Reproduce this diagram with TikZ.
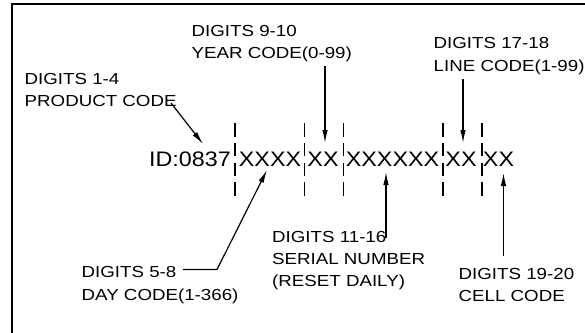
\documentclass[tikz,border=0pt]{standalone}
\usepackage{fontspec}
\setmainfont{Liberation Sans}
\newfontfamily\lblfont{Liberation Sans}[FakeStretch=1.17]
\newfontfamily\idfont{Liberation Sans}[FakeStretch=1.11]
\usetikzlibrary{arrows.meta}
\begin{document}
\begin{tikzpicture}[x=1pt,y=-1pt,
  lbl/.style={inner sep=0pt,anchor=base west,font=\lblfont\fontsize{16}{20}\selectfont},
  code/.style={inner sep=0pt,anchor=base,font=\idfont\fontsize{21}{24}\selectfont},
  sep/.style={line width=1.3pt,dash pattern=on 13.5pt off 6.3pt},
  arr/.style={line width=1.2pt,-{Latex[length=13pt,width=5.5pt]}},
  frame/.style={line width=2pt}]
\useasboundingbox (0,0) rectangle (585,332);
% frame (left and top edges only visible)
\coordinate (fbl) at (12,340);
\coordinate (ftl) at (12,4);
\coordinate (ftr) at (590,4);
\draw[frame] (fbl) -- (ftl) -- (ftr);
% main code line
\node[code] (id) at (190,166) {ID:0837};
\node[code] (g1) at (270,166) {XXXX};
\node[code] (g2) at (323,166) {XX};
\node[code] (g3) at (392.5,166) {XXXXXX};
\node[code] (g4) at (461,166) {XX};
\node[code] (g5) at (498.5,166) {XX};
% separators
\foreach \n/\x in {1/235,2/304.5,3/343.5,4/443,5/482}{
  \coordinate (s\n t) at (\x,123);
  \coordinate (s\n b) at (\x,196);
  \draw[sep] (s\n t) -- (s\n b);
}
% labels
\node[lbl] (pc1) at (24.5,84) {DIGITS 1-4};
\node[lbl] (pc2) at (24.5,106) {PRODUCT CODE};
\node[lbl] (yc1) at (191.5,36) {DIGITS 9-10};
\node[lbl] (yc2) at (191.5,58) {YEAR CODE(0-99)};
\node[lbl] (lc1) at (433.5,48.5) {DIGITS 17-18};
\node[lbl] (lc2) at (433.5,71) {LINE CODE(1-99)};
\node[lbl] (sn1) at (272,242) {DIGITS 11-16};
\node[lbl] (sn2) at (272,264) {SERIAL NUMBER};
\node[lbl] (sn3) at (272,286) {(RESET DAILY)};
\node[lbl] (dc1) at (81.5,277.5) {DIGITS 5-8};
\node[lbl] (dc2) at (81.5,300) {DAY CODE(1-366)};
\node[lbl] (cc1) at (458.5,279.5) {DIGITS 19-20};
\node[lbl] (cc2) at (458.5,301.5) {CELL CODE};
% arrows
\coordinate (pcA) at (171,103);
\coordinate (pcT) at (203,144);
\draw[arr] (pcA) -- (pcT);
\coordinate (ycA) at (325,66);
\coordinate (ycT) at (325,143);
\draw[arr] (ycA) -- (ycT);
\coordinate (lcA) at (463,79);
\coordinate (lcT) at (463,143);
\draw[arr] (lcA) -- (lcT);
\coordinate (dcA) at (183,269.5);
\coordinate (dcK) at (217,269.5);
\coordinate (dcT) at (267,170);
\draw[arr] (dcA) -- (dcK) -- (dcT);
\coordinate (snA) at (386,238);
\coordinate (snT) at (386,172);
\draw[arr] (snA) -- (snT);
\coordinate (ccA) at (503.5,256);
\coordinate (ccT) at (503.5,173);
\draw[arr] (ccA) -- (ccT);
\end{tikzpicture}
\end{document}
